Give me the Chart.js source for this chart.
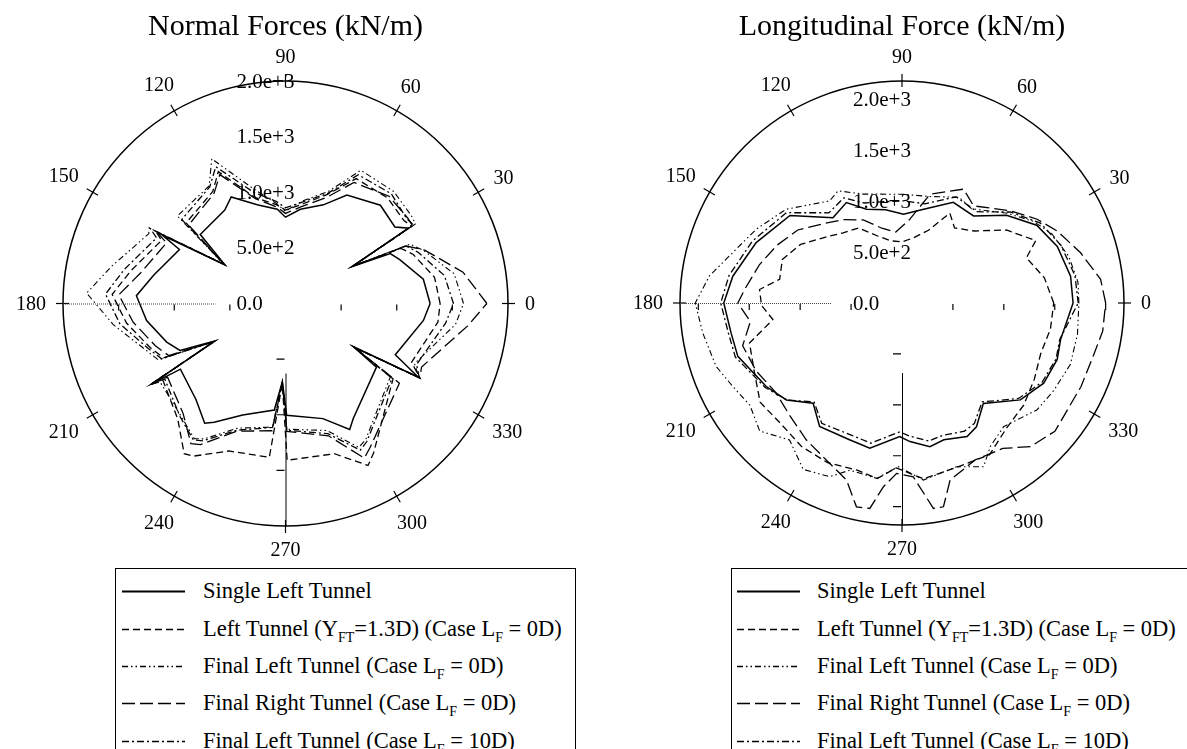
<!DOCTYPE html>
<html><head><meta charset="utf-8">
<script src="https://cdn.jsdelivr.net/npm/chart.js@4.4.1/dist/chart.umd.min.js"></script>
<style>
html,body{margin:0;padding:0;background:#fff;}
body{width:1187px;height:749px;position:relative;overflow:hidden;font-family:"Liberation Serif","Times New Roman",serif;color:#000;}
canvas{position:absolute;top:0;}
.legend{position:absolute;top:568px;height:200px;border:1.5px solid #000;box-sizing:border-box;background:#fff;}
.row{position:absolute;height:36px;line-height:36px;font-size:22.5px;white-space:nowrap;}
.row svg{position:absolute;top:0;}
.row span{position:absolute;top:0;}
sub{font-size:14px;vertical-align:-6px;line-height:0;}
</style></head>
<body>
<canvas id="cNormal" width="590" height="568" style="left:0px"></canvas>
<canvas id="cLong" width="592" height="568" style="left:595px"></canvas>
<div class="legend" id="legL" style="left:115px;width:461px"></div>
<div class="legend" id="legR" style="left:731px;width:470px"></div>
<script>
// ---------- Normal Forces (kN/m) ----------
const normalAngles = [0,10,21,25.5,29,31.5,35,46,60.5,69,81,90,95,106,117,123,141,147.5,151,153,168,177,187,198,204,208,211,212,227,236,239,249,264,267.7,270.6,288,297,300.5,325,327.5,331,335,353,360];
const normalSingleLeft = [1300,1258,1100,1043,681,1296,1200,1228,1121,950,857,776,851,924,1075,1002,986,645,1260,1070,1214,1342,1258,1123,1038,717,1403,1114,1180,1299,1246,1073,963,704,1004,1088,1271,1200,998,723,1365,1089,1249,1300];
const normalLeftYft = [1390,1360,1230,1150,700,1330,1300,1320,1290,1050,900,840,890,990,1330,1200,1150,660,1330,1250,1420,1560,1440,1280,1200,730,1420,1300,1420,1629,1600,1420,1390,720,1409,1420,1634,1560,1180,740,1380,1250,1380,1390];
const normalFinalLeft0 = [1600,1540,1330,1240,690,1370,1380,1400,1376,1080,930,830,900,1080,1460,1260,1250,655,1400,1380,1600,1790,1560,1330,1250,725,1410,1330,1380,1466,1420,1200,1117,712,1130,1200,1452,1420,1150,730,1370,1280,1540,1600];
const normalFinalRight0 = [1810,1620,1340,1200,685,1340,1340,1340,1250,1020,880,810,870,980,1300,1180,1120,650,1320,1200,1330,1500,1380,1230,1150,722,1410,1250,1350,1520,1480,1230,1150,710,1150,1250,1560,1500,1250,735,1380,1350,1650,1810];
const normalFinalLeft10 = [1510,1450,1280,1200,690,1350,1330,1370,1330,1060,920,860,920,1040,1380,1250,1200,650,1390,1300,1480,1620,1500,1300,1220,720,1415,1280,1390,1480,1440,1220,1120,708,1140,1230,1480,1440,1170,732,1375,1300,1450,1510];

// ---------- Longitudinal Force (kN/m) ----------
const longAngSingle = [0,9,20,30,40,50.6,63,77,89,100,110.7,119,129,142,157.5,171,180,190,198,211.6,220,228.4,236.3,249,257.5,269,273.3,281,287,296,301,309,320.7,330.5,340,347,360];
const longSingle = [1680,1676,1623,1527,1340,1107,1109,945,872,930,985,1127,1078,1396,1550,1682,1750,1704,1695,1565,1481,1315,1458,1439,1461,1312,1363,1437,1405,1458,1419,1269,1502,1599,1622,1598,1680];
const longFinalLeft10 = [1730,1720,1660,1570,1390,1160,1170,1000,1003,1010,1050,1180,1140,1440,1590,1720,1780,1730,1720,1580,1480,1300,1420,1390,1410,1265,1310,1380,1360,1400,1380,1250,1480,1580,1610,1590,1730];
const longAngLeft0 = [0,6.8,15.7,24.9,31.8,40.4,53.6,61.6,75.5,89.3,109.6,119.7,125.3,141,153.2,163.4,172,180,188.5,198.8,206.2,214,222,230.6,239.3,247.4,252.7,261.8,268.7,276.9,288.5,296.5,301.6,309.4,321.7,330,340,350,360];
const longFinalLeft0 = [1737,1740,1700,1620,1520,1360,1150,1180,1080,1068,1135,1268,1229,1463,1605,1734,1910,2030,1979,1929,1853,1800,1880,1740,1900,1848,1719,1740,1608,1751,1695,1796,1655,1572,1691,1720,1760,1750,1737];
const longAngRight0 = [0,6.8,15.7,24.9,31.8,40.4,53.6,61.6,75.5,85,95,105,115,125,135,145,155,165,175,180,187,195,205,215,225,235,245,252.6,257.4,261.1,264.2,268.2,273.7,278.7,281.5,285.2,295,304.7,311.8,320,335,345,352,360];
const longFinalRight0 = [2000,1964,1822,1680,1561,1397,1185,1271,1104,820,700,760,900,1000,1100,1250,1350,1450,1550,1612,1500,1620,1580,1520,1560,1640,1720,1822,2051,2042,1814,1674,1710,2041,2042,1802,1700,1737,1892,1960,1940,1950,1990,2000];
const longAngYft = [0,10,20,25,35,45,55,62,70,80,90,100,110,120,130,140,150,160,169,174.6,181,187.3,194.7,205,215,225,235,245,255,262,268,277,290,300,310,320,330,340,350,360];
const longLeftYft = [1490,1420,1300,1450,1250,1000,900,1000,760,650,600,620,700,850,900,1000,1150,1250,1224,1405,1380,1278,1548,1600,1700,1680,1720,1730,1700,1740,1620,1740,1700,1720,1600,1560,1500,1450,1480,1490];

// ---------- axes ----------
const angleTicks = [0,30,60,90,120,150,180,210,240,270,300,330];
const radialTickValues = [0,500,1000,1500,2000];
const radialTickLabels = ["0.0","5.0e+2","1.0e+3","1.5e+3","2.0e+3"];

// ---------- legend ----------
const seriesNames = [
  'Single Left Tunnel',
  'Left Tunnel (Y<sub>FT</sub>=1.3D) (Case L<sub>F</sub> = 0D)',
  'Final Left Tunnel (Case L<sub>F</sub> = 0D)',
  'Final Right Tunnel (Case L<sub>F</sub> = 0D)',
  'Final Left Tunnel (Case L<sub>F</sub> = 10D)'
];
const seriesDash = [[], [7,4], [6,3,1.5,3,1.5,3], [13,5], [7,3,2,3]];
const seriesWidth = [1.5, 1.3, 1.1, 1.3, 1.3];

function toXY(ang, r){
  return ang.map((a,i)=>({x: r[i]*Math.cos(a*Math.PI/180), y: r[i]*Math.sin(a*Math.PI/180)}));
}

const polarDecor = {
  id:'polarDecor',
  afterDraw(chart, args, o){
    const ctx = chart.ctx, xs = chart.scales.x, ys = chart.scales.y;
    const cx = xs.getPixelForValue(0), cy = ys.getPixelForValue(0);
    const k = (xs.getPixelForValue(o.max) - cx)/o.max;
    const Rp = o.max*k;
    ctx.save();
    ctx.strokeStyle = '#000'; ctx.fillStyle = '#000';
    ctx.lineWidth = 1.5;
    ctx.beginPath(); ctx.arc(cx, cy, Rp, 0, 2*Math.PI); ctx.stroke();
    ctx.font = '20px "Liberation Serif"'; ctx.textAlign = 'center'; ctx.textBaseline = 'middle';
    angleTicks.forEach(a=>{
      const t = a*Math.PI/180, c = Math.cos(t), s = -Math.sin(t);
      ctx.lineWidth = 1.2;
      ctx.beginPath(); ctx.moveTo(cx+c*(Rp-6), cy+s*(Rp-6)); ctx.lineTo(cx+c*(Rp+7), cy+s*(Rp+7)); ctx.stroke();
      const lbl = String(a), w = ctx.measureText(lbl).width;
      const off = Rp + 17 + Math.abs(c)*w/2 + Math.abs(s)*7;
      ctx.fillText(lbl, cx+c*off, cy+s*off+1);
    });
    const inner = 70;
    ctx.lineWidth = 1; ctx.strokeStyle = '#444'; ctx.setLineDash([1,1]);
    ctx.beginPath(); ctx.moveTo(cx-Rp, cy+0.5); ctx.lineTo(cx-inner, cy+0.5); ctx.stroke();
    ctx.setLineDash([]); ctx.strokeStyle = '#000';
    ctx.beginPath(); ctx.moveTo(cx+0.5, cy+inner); ctx.lineTo(cx+0.5, cy+Rp); ctx.stroke();
    ctx.lineWidth = 1.2;
    radialTickValues.forEach(v=>{
      const p = v*k;
      if (v===0 || p > Rp-3) return;
      ctx.beginPath();
      ctx.moveTo(cx-p, cy+1); ctx.lineTo(cx-p, cy+7);
      ctx.moveTo(cx+p, cy+1); ctx.lineTo(cx+p, cy+7);
      ctx.moveTo(cx-9, cy+p); ctx.lineTo(cx-1, cy+p);
      ctx.stroke();
    });
    ctx.font = '21px "Liberation Serif"'; ctx.textAlign = 'left'; ctx.textBaseline = 'middle';
    radialTickValues.forEach((v,i)=>{ ctx.fillText(radialTickLabels[i], cx-49, cy - v*k + 1); });
    ctx.font = '30px "Liberation Serif"'; ctx.textAlign = 'center'; ctx.textBaseline = 'alphabetic';
    ctx.fillText(o.title, cx, 35);
    ctx.restore();
  }
};

function makePolar(id, cfg){
  const datasets = cfg.series.map((s,i)=>({
    data: toXY(s.ang, s.r), showLine: true, borderColor: '#000', backgroundColor: '#000',
    borderWidth: seriesWidth[i], borderDash: seriesDash[i], pointRadius: 0, fill: false, tension: 0,
    borderJoinStyle: 'miter'
  }));
  return new Chart(document.getElementById(id), {
    type: 'scatter',
    data: { datasets },
    options: {
      responsive: false, animation: false, devicePixelRatio: 1,
      layout: { padding: cfg.padding },
      scales: {
        x: { type: 'linear', min: -cfg.max, max: cfg.max, display: false },
        y: { type: 'linear', min: -cfg.max, max: cfg.max, display: false }
      },
      plugins: { legend: { display: false }, tooltip: { enabled: false },
        polarDecor: { max: cfg.max, title: cfg.title } }
    },
    plugins: [polarDecor]
  });
}

makePolar('cNormal', {
  title: 'Normal Forces (kN/m)', max: 2000,
  padding: { left: 63, top: 81, right: 82, bottom: 42 },
  series: [
    { ang: normalAngles, r: normalSingleLeft },
    { ang: normalAngles, r: normalLeftYft },
    { ang: normalAngles, r: normalFinalLeft0 },
    { ang: normalAngles, r: normalFinalRight0 },
    { ang: normalAngles, r: normalFinalLeft10 }
  ]
});
makePolar('cLong', {
  title: 'Longitudinal Force (kN/m)', max: 2180,
  padding: { left: 85, top: 81, right: 63, bottom: 43 },
  series: [
    { ang: longAngSingle, r: longSingle },
    { ang: longAngYft, r: longLeftYft },
    { ang: longAngLeft0, r: longFinalLeft0 },
    { ang: longAngRight0, r: longFinalRight0 },
    { ang: longAngSingle, r: longFinalLeft10 }
  ]
});

function buildLegend(id, sampleLeft, textLeft){
  const box = document.getElementById(id);
  const centers = [22, 60, 97, 134, 172];
  seriesNames.forEach((name,i)=>{
    const row = document.createElement('div');
    row.className = 'row';
    row.style.top = (centers[i]-18)+'px'; row.style.left = '0px'; row.style.width = '100%';
    const dash = seriesDash[i].length ? 'stroke-dasharray="'+seriesDash[i].join(',')+'"' : '';
    row.innerHTML = '<svg width="64" height="36" style="left:'+sampleLeft+'px"><line x1="0" y1="18.5" x2="63" y2="18.5" stroke="#000" stroke-width="'+(seriesWidth[i]+0.3)+'" '+dash+'/></svg>'
      + '<span style="left:'+textLeft+'px">'+name+'</span>';
    box.appendChild(row);
  });
}
buildLegend('legL', 6, 87);
buildLegend('legR', 5, 85);
</script>
</body></html>
